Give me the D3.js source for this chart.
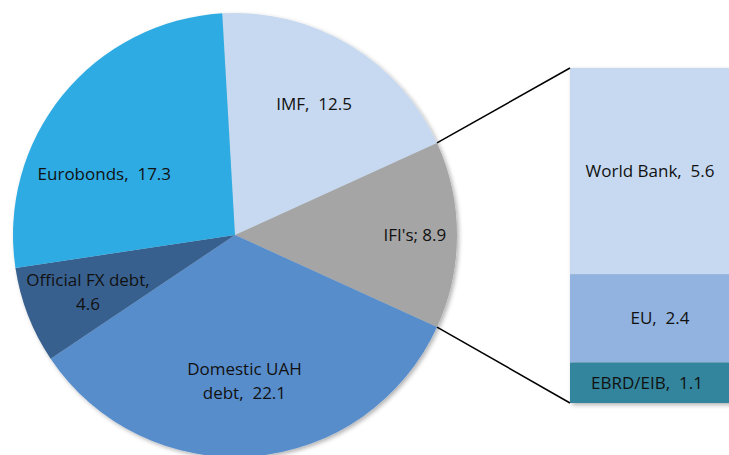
<!DOCTYPE html>
<html>
<head>
<meta charset="utf-8">
<script src="https://cdn.jsdelivr.net/npm/d3@7"></script>
<style>
  html, body { margin: 0; padding: 0; background: #fff; }
  svg text { font-family: "Open Sans", sans-serif; font-size: 17px; fill: #111; white-space: pre; }
</style>
</head>
<body>
<div id="chart"></div>
<script>
// main pie (USD bn)
var pieLabels = ["IMF", "IFI's", "Domestic UAH debt", "Official FX debt", "Eurobonds"];
var pieValues = [12.5, 8.9, 22.1, 4.6, 17.3];
var pieColors = ["#c6d9f0", "#a5a5a5", "#588dcb", "#37618f", "#2eabe2"];
// label text lines, as in the original
var pieText = [["IMF,  12.5"], ["IFI's; 8.9"], ["Domestic UAH", "debt,  22.1"], ["Official FX debt,", "4.6"], ["Eurobonds,  17.3"]];

// breakdown of IFI's
var barLabels = ["World Bank", "EU", "EBRD/EIB"];
var barValues = [5.6, 2.4, 1.1];
var barColors = ["#c6d9f0", "#92b3df", "#31859c"];

var width = 729, height = 455;
var cx = 235, cy = 235, R = 222;

var svg = d3.select("#chart").append("svg")
    .attr("width", width)
    .attr("height", height);

var defs = svg.append("defs");
defs.append("filter")
    .attr("id", "shadow")
    .attr("x", "-10%").attr("y", "-10%").attr("width", "120%").attr("height", "120%")
  .append("feDropShadow")
    .attr("dx", 2).attr("dy", 2).attr("stdDeviation", 2)
    .attr("flood-color", "#000").attr("flood-opacity", 0.3);

// rotate pie so IFI slice faces the bar (centred at 3 o'clock)
var total = d3.sum(pieValues);
var ifiStart = 0;
for (var i = 0; i < 1; i++) ifiStart += pieValues[i];
var offset = Math.PI / 2 - (ifiStart + pieValues[1] / 2) / total * 2 * Math.PI;

var pie = d3.pie().sort(null).value(function(d) { return d; })
    .startAngle(offset).endAngle(offset + 2 * Math.PI);
var arcs = pie(pieValues);
var arc = d3.arc().innerRadius(0).outerRadius(R);

var g = svg.append("g").attr("transform", "translate(" + cx + "," + cy + ")");
g.append("g").attr("filter", "url(#shadow)")
  .selectAll("path")
    .data(arcs)
  .enter().append("path")
    .attr("d", arc)
    .attr("fill", function(d, i) { return pieColors[i]; });

// label placement: radius fraction and angular nudge (deg)
var labelR = [0.69, 0.81, 0.66, 0.71, 0.65];
var labelNudge = [0, 0, 1, 0, -14];
g.selectAll("text.pl")
    .data(arcs)
  .enter().append("text")
    .attr("class", "pl")
    .attr("text-anchor", "middle")
    .attr("transform", function(d, i) {
      var a = (d.startAngle + d.endAngle) / 2 + labelNudge[i] * Math.PI / 180;
      var r = R * labelR[i];
      return "translate(" + [r * Math.sin(a), -r * Math.cos(a)] + ")";
    })
    .each(function(d, i) {
      var lines = pieText[i];
      var t = d3.select(this);
      lines.forEach(function(l, j) {
        t.append("tspan")
          .attr("x", 0)
          .attr("dy", j == 0 ? (0.35 - (lines.length - 1) * 0.7) + "em" : "1.4em")
          .text(l);
      });
    });

// stacked bar of IFI's
var barX0 = 570, barW = 162;
var y = d3.scaleLinear().domain([0, d3.sum(barValues)]).range([403, 68]);
var stack = [];
var acc = 0;
for (var k = barValues.length - 1; k >= 0; k--) {
  stack[k] = {lo: acc, hi: acc + barValues[k]};
  acc += barValues[k];
}

var bar = svg.append("g");
bar.append("g").attr("filter", "url(#shadow)")
  .selectAll("rect")
    .data(stack)
  .enter().append("rect")
    .attr("x", barX0)
    .attr("width", barW)
    .attr("y", function(d) { return y(d.hi); })
    .attr("height", function(d) { return y(d.lo) - y(d.hi); })
    .attr("fill", function(d, i) { return barColors[i]; });

var barTextX = [650, 660, 647];
bar.selectAll("text")
    .data(stack)
  .enter().append("text")
    .attr("text-anchor", "middle")
    .attr("x", function(d, i) { return barTextX[i]; })
    .attr("y", function(d) { return (y(d.lo) + y(d.hi)) / 2; })
    .attr("dy", "0.35em")
    .text(function(d, i) { return barLabels[i] + ",  " + barValues[i]; });

// connector lines from IFI slice edges to bar corners
var ifi = arcs[1];
var p1 = [cx + R * Math.sin(ifi.startAngle), cy - R * Math.cos(ifi.startAngle)];
var p2 = [cx + R * Math.sin(ifi.endAngle), cy - R * Math.cos(ifi.endAngle)];
svg.append("line")
    .attr("x1", p1[0]).attr("y1", p1[1])
    .attr("x2", barX0).attr("y2", y(d3.sum(barValues)))
    .attr("stroke", "#000").attr("stroke-width", 1.5);
svg.append("line")
    .attr("x1", p2[0]).attr("y1", p2[1])
    .attr("x2", barX0).attr("y2", y(0))
    .attr("stroke", "#000").attr("stroke-width", 1.5);
</script>
</body>
</html>
